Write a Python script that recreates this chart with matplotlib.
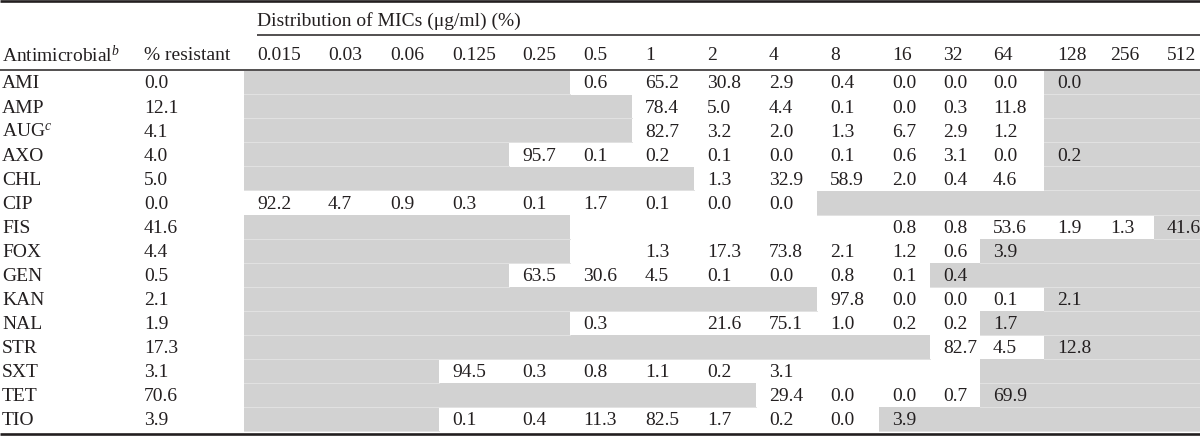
import matplotlib
matplotlib.use("Agg")
import matplotlib.pyplot as plt
from matplotlib.patches import Rectangle

# ---------------- data ----------------
antimicrobials = ["AMI", "AMP", "AUG", "AXO", "CHL", "CIP", "FIS", "FOX",
                  "GEN", "KAN", "NAL", "STR", "SXT", "TET", "TIO"]
footnotes = {"AUG": "c"}
pct_resistant = [0.0, 12.1, 4.1, 4.0, 5.0, 0.0, 41.6, 4.4,
                 0.5, 2.1, 1.9, 17.3, 3.1, 70.6, 3.9]
mic_labels = ["0.015", "0.03", "0.06", "0.125", "0.25", "0.5", "1", "2",
              "4", "8", "16", "32", "64", "128", "256", "512"]
N = None
distribution = [
    [N, N, N, N, N, 0.6, 65.2, 30.8, 2.9, 0.4, 0.0, 0.0, 0.0, 0.0, N, N],      # AMI
    [N, N, N, N, N, N, 78.4, 5.0, 4.4, 0.1, 0.0, 0.3, 11.8, N, N, N],        # AMP
    [N, N, N, N, N, N, 82.7, 3.2, 2.0, 1.3, 6.7, 2.9, 1.2, N, N, N],         # AUG
    [N, N, N, N, 95.7, 0.1, 0.2, 0.1, 0.0, 0.1, 0.6, 3.1, 0.0, 0.2, N, N],   # AXO
    [N, N, N, N, N, N, N, 1.3, 32.9, 58.9, 2.0, 0.4, 4.6, N, N, N],          # CHL
    [92.2, 4.7, 0.9, 0.3, 0.1, 1.7, 0.1, 0.0, 0.0, N, N, N, N, N, N, N],     # CIP
    [N, N, N, N, N, N, N, N, N, N, 0.8, 0.8, 53.6, 1.9, 1.3, 41.6],          # FIS
    [N, N, N, N, N, N, 1.3, 17.3, 73.8, 2.1, 1.2, 0.6, 3.9, N, N, N],        # FOX
    [N, N, N, N, 63.5, 30.6, 4.5, 0.1, 0.0, 0.8, 0.1, 0.4, N, N, N, N],      # GEN
    [N, N, N, N, N, N, N, N, N, 97.8, 0.0, 0.0, 0.1, 2.1, N, N],             # KAN
    [N, N, N, N, N, 0.3, N, 21.6, 75.1, 1.0, 0.2, 0.2, 1.7, N, N, N],        # NAL
    [N, N, N, N, N, N, N, N, N, N, N, 82.7, 4.5, 12.8, N, N],                # STR
    [N, N, N, 94.5, 0.3, 0.8, 1.1, 0.2, 3.1, N, N, N, N, N, N, N],           # SXT
    [N, N, N, N, N, N, N, N, 29.4, 0.0, 0.0, 0.7, 69.9, N, N, N],            # TET
    [N, N, N, 0.1, 0.4, 11.3, 82.5, 1.7, 0.2, 0.0, 3.9, N, N, N, N, N],      # TIO
]
# number of shaded (untested) columns at the left, and first shaded column at the right
shade_left = [5, 6, 6, 4, 7, 0, 5, 5, 4, 9, 5, 11, 3, 8, 3]
shade_right = [13, 13, 13, 13, 13, 9, 15, 12, 11, 13, 12, 13, 12, 12, 10]

# ---------------- layout ----------------
W, H = 1200, 436
plt.rcParams["font.family"] = ["Liberation Serif", "DejaVu Serif"]
plt.rcParams["mathtext.fontset"] = "custom"
plt.rcParams["mathtext.rm"] = "Liberation Serif"
plt.rcParams["mathtext.it"] = "Liberation Serif:italic"

fig = plt.figure(figsize=(W / 100, H / 100), dpi=100)
ax = fig.add_axes([0, 0, 1, 1])
ax.set_xlim(0, W)
ax.set_ylim(H, 0)
ax.axis("off")

txt_color = "#231f20"
shade = "#d2d2d2"
sep = "#e2e2e2"
fs = 14

x_name = 2
x_res = 144
col_x = [257, 328, 390, 452, 522, 583, 645, 707, 769, 830, 892, 943, 993,
         1057, 1110, 1167]
pad = 13
edges = [c - pad for c in col_x] + [W]

row_top = 71
row_h = 24.0

# rules
ax.plot([0, W], [1.5, 1.5], color=txt_color, lw=1.9, solid_capstyle="butt")
ax.plot([col_x[0], W], [35, 35], color=txt_color, lw=1.1, solid_capstyle="butt")
ax.plot([0, W], [70, 70], color=txt_color, lw=1.1, solid_capstyle="butt")
ax.plot([0, W], [433.5, 433.5], color=txt_color, lw=1.9, solid_capstyle="butt")

# header
ax.text(col_x[0], 21, "Distribution of MICs (μg/ml) (%)", fontsize=fs,
        color=txt_color, ha="left", va="center")
hy = 55
ax.text(x_name, hy, r"Antimicrobial$^{\mathit{b}}$", fontsize=fs,
        color=txt_color, ha="left", va="center")
ax.text(x_res, hy, "% resistant", fontsize=fs, color=txt_color,
        ha="left", va="center")
for x, lab in zip(col_x, mic_labels):
    ax.text(x, hy, lab, fontsize=fs, color=txt_color, ha="left", va="center")

# body
for i, name in enumerate(antimicrobials):
    top = row_top + i * row_h
    yc = top + row_h / 2 + 1
    # shaded cells
    if shade_left[i] > 0:
        x0, x1 = edges[0], edges[shade_left[i]]
        ax.add_patch(Rectangle((x0, top), x1 - x0, row_h, facecolor=shade,
                               edgecolor="none", zorder=1))
        ax.plot([x0, x1], [top + row_h - 0.5] * 2, color=sep, lw=0.7, zorder=2)
    if shade_right[i] < len(mic_labels):
        x0, x1 = edges[shade_right[i]], W
        ax.add_patch(Rectangle((x0, top), x1 - x0, row_h, facecolor=shade,
                               edgecolor="none", zorder=1))
        ax.plot([x0, x1], [top + row_h - 0.5] * 2, color=sep, lw=0.7, zorder=2)
    label = name
    if name in footnotes:
        label = name + r"$^{\mathit{" + footnotes[name] + "}}$"
    ax.text(x_name, yc, label, fontsize=fs, color=txt_color, ha="left",
            va="center", zorder=3)
    ax.text(x_res, yc, f"{pct_resistant[i]:.1f}", fontsize=fs, color=txt_color,
            ha="left", va="center", zorder=3)
    for j, v in enumerate(distribution[i]):
        if v is not None:
            ax.text(col_x[j], yc, f"{v:.1f}", fontsize=fs, color=txt_color,
                    ha="left", va="center", zorder=3)

fig.savefig("out.png", dpi=100)
